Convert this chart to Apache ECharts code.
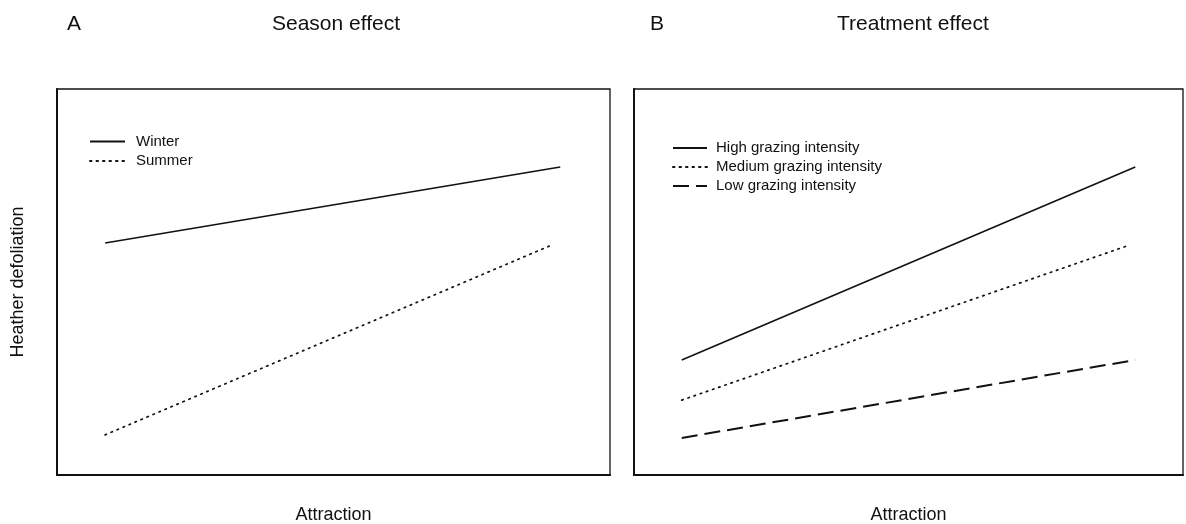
<!DOCTYPE html>
<html>
<head>
<meta charset="utf-8">
<script src="https://cdn.jsdelivr.net/npm/echarts@6/dist/echarts.min.js"></script>
<style>
html,body{margin:0;padding:0;background:#fff;}
#c{width:1186px;height:524px;}
</style>
</head>
<body>
<div id="c"></div>
<script>
// Panel A: Season effect (x = attraction, y = heather defoliation; unitless 0-100)
const seasonX = [8.7, 91.0];
const winter = [60.1, 79.8];
const summerX = [8.7, 89.5];
const summer = [10.4, 59.6];
// Panel B: Treatment effect
const treatX = [8.7, 91.3];
const mediumX = [8.7, 90.3];
const high = [29.8, 79.8];
const medium = [19.4, 59.6];
const low = [9.6, 29.8];

const seasonNames = ['Winter', 'Summer'];
const treatNames = ['High grazing intensity', 'Medium grazing intensity', 'Low grazing intensity'];
const panelTitles = ['Season effect', 'Treatment effect'];
const panelLetters = ['A', 'B'];
const xName = 'Attraction';
const yName = 'Heather defoliation';

const FONT = '"Liberation Sans", Arial, sans-serif';
const INK = '#111';

function pairs(xs, ys) { return xs.map((x, i) => [x, ys[i]]); }

const solid = { color: INK, width: 1.6, type: 'solid' };
const dotted = { color: INK, width: 1.7, type: [1.5, 5], cap: 'round' };
const dashed = { color: INK, width: 2, type: [16, 7] };

function mkX(idx) {
  return {
    gridIndex: idx, type: 'value', min: 0, max: 100,
    axisLine: { show: true, onZero: false, lineStyle: { color: INK, width: 2 } },
    axisTick: { show: false }, axisLabel: { show: false }, splitLine: { show: false },
    name: xName, nameLocation: 'middle', nameGap: 31,
    nameTextStyle: { fontFamily: FONT, fontSize: 18, color: INK }
  };
}
function mkY(idx, withName) {
  const a = {
    gridIndex: idx, type: 'value', min: 0, max: 100,
    axisLine: { show: true, onZero: false, lineStyle: { color: INK, width: 2 } },
    axisTick: { show: false }, axisLabel: { show: false }, splitLine: { show: false }
  };
  if (withName) {
    a.name = yName; a.nameLocation = 'middle'; a.nameGap = 30; a.nameRotate = 90;
    a.nameTextStyle = { fontFamily: FONT, fontSize: 18, color: INK };
  }
  return a;
}

function line(name, xi, data, style) {
  return {
    name, type: 'line', xAxisIndex: xi, yAxisIndex: xi, data,
    symbol: 'none', showSymbol: false, lineStyle: style,
    itemStyle: { color: INK, opacity: 0 },
    silent: true, animation: false
  };
}

const legendCommon = {
  orient: 'vertical', itemHeight: 15, selectedMode: false,
  itemStyle: { opacity: 0, borderWidth: 0 }
};

const titleStyle = { fontFamily: FONT, fontSize: 21, fontWeight: 'normal', color: INK };

const gridCommon = {
  top: 89, height: 386, show: true, borderColor: INK, borderWidth: 1.3,
  backgroundColor: 'transparent', containLabel: false, outerBoundsMode: 'none'
};

const option = {
  backgroundColor: '#fff',
  animation: false,
  title: [
    { text: panelLetters[0], left: 62, top: 9, textStyle: titleStyle },
    { text: panelTitles[0], left: 267, top: 9, textStyle: titleStyle },
    { text: panelLetters[1], left: 645, top: 9, textStyle: titleStyle },
    { text: panelTitles[1], left: 832, top: 9, textStyle: titleStyle }
  ],
  grid: [
    Object.assign({}, gridCommon, { left: 57, width: 553 }),
    Object.assign({}, gridCommon, { left: 634, width: 549 })
  ],
  xAxis: [mkX(0), mkX(1)],
  yAxis: [mkY(0, true), mkY(1, false)],
  legend: [
    Object.assign({}, legendCommon, {
      data: seasonNames, left: 84, top: 129, itemWidth: 35, itemGap: 4.5,
      textStyle: { fontFamily: FONT, fontSize: 15, color: INK, padding: [0, 0, 0, 6] }
    }),
    Object.assign({}, legendCommon, {
      data: treatNames, left: 667, top: 135.5, itemWidth: 34, itemGap: 4,
      textStyle: { fontFamily: FONT, fontSize: 15, color: INK, padding: [0, 0, 0, 4] }
    })
  ],
  series: [
    line(seasonNames[0], 0, pairs(seasonX, winter), solid),
    line(seasonNames[1], 0, pairs(summerX, summer), dotted),
    line(treatNames[0], 1, pairs(treatX, high), solid),
    line(treatNames[1], 1, pairs(mediumX, medium), dotted),
    line(treatNames[2], 1, pairs(treatX, low), dashed)
  ]
};

const chart = echarts.init(document.getElementById('c'), null, { renderer: 'canvas' });
chart.setOption(option);
</script>
</body>
</html>
